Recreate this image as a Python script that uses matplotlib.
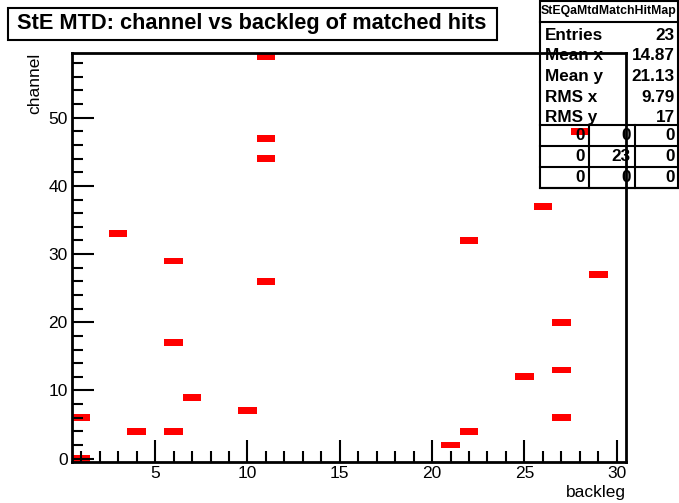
import numpy as np
import matplotlib
matplotlib.use('Agg')
import matplotlib.pyplot as plt
from matplotlib.patches import Rectangle

# matched hits: (backleg, channel)
backleg = [1, 1, 3, 4, 6, 6, 6, 7, 10, 11, 11, 11, 11,
           21, 22, 22, 25, 26, 27, 27, 27, 28, 29]
channel = [0, 6, 33, 4, 29, 17, 4, 9, 7, 59, 47, 44, 26,
           2, 32, 4, 12, 37, 20, 13, 6, 48, 27]

stat_names = ['Entries', 'Mean x', 'Mean y', 'RMS x', 'RMS y']
stat_values = ['23', '14.87', '21.13', '9.79', '17']
overflow = [['0', '0', '0'], ['0', '23', '0'], ['0', '0', '0']]

plt.rcParams['font.family'] = ['Liberation Sans', 'DejaVu Sans']

W, H = 679, 503
fig = plt.figure(figsize=(W / 100, H / 100), dpi=100)
ax = fig.add_axes([72 / W, 1 - 462 / H, (626 - 72) / W, (462 - 53) / H])

xedges = np.arange(0.5, 31.0, 1.0)
yedges = np.arange(-0.5, 60.0, 1.0)
counts, _, _ = np.histogram2d(backleg, channel, bins=[xedges, yedges])
masked = np.ma.masked_where(counts.T == 0, counts.T)
ax.pcolormesh(xedges, yedges, masked, cmap=matplotlib.colors.ListedColormap(['red']))

ax.set_xlim(0.5, 30.5)
ax.set_ylim(-0.5, 59.5)
ax.set_xticks([5, 10, 15, 20, 25, 30])
ax.set_xticks(np.arange(1, 31), minor=True)
ax.set_yticks([0, 10, 20, 30, 40, 50])
ax.set_yticks(np.arange(0, 60, 2), minor=True)
ax.tick_params(direction='in', length=16, width=1.5, labelsize=12.5, pad=3)
ax.tick_params(which='minor', direction='in', length=8, width=1.5)
ax.tick_params(top=False, right=False, which='both')
for s in ax.spines.values():
    s.set_linewidth(2)

fig.text(626 / W, 1 - 500 / H, 'backleg', ha='right', va='bottom', fontsize=12.5)
fig.text(35 / W, 1 - 53 / H, 'channel', ha='center', va='top', rotation=90, fontsize=12.5)

# title box
fig.patches.append(Rectangle((8 / W, 1 - 40 / H), (497 - 8) / W, 32 / H,
                             transform=fig.transFigure, fill=False, lw=1.5, ec='black'))
fig.text(252 / W, 1 - 24 / H, 'StE MTD: channel vs backleg of matched hits',
         ha='center', va='center', fontsize=15.7, fontweight='bold')

# stats box
x0, x1 = 540, 678
fig.patches.append(Rectangle((x0 / W, 1 - 188 / H), (x1 - x0) / W, 187 / H,
                             transform=fig.transFigure, fill=False, lw=1.5, ec='black',
                             zorder=5))
def hline(y, xa=x0, xb=x1):
    fig.add_artist(plt.Line2D([xa / W, xb / W], [1 - y / H, 1 - y / H], color='black', lw=1.5))

def vline(x, ya, yb):
    fig.add_artist(plt.Line2D([x / W, x / W], [1 - ya / H, 1 - yb / H], color='black', lw=1.5))

hline(22)
fig.text((x0 + x1) / 2 / W, 1 - 11 / H, 'StEQaMtdMatchHitMap', ha='center', va='center',
         fontsize=8.8, fontweight='bold')
for i, (n, v) in enumerate(zip(stat_names, stat_values)):
    y = 35 + i * 20.7
    fig.text((x0 + 5) / W, 1 - y / H, n, ha='left', va='center', fontsize=12.3, fontweight='bold')
    fig.text((x1 - 3) / W, 1 - y / H, v, ha='right', va='center', fontsize=12.3, fontweight='bold')

rows_y = [125, 146, 167, 188]
for y in rows_y:
    hline(y)
vline(589, 125, 188)
vline(635, 125, 188)
col_right = [585, 631, 675]
for r, row in enumerate(overflow):
    yc = (rows_y[r] + rows_y[r + 1]) / 2
    for c, val in enumerate(row):
        fig.text(col_right[c] / W, 1 - yc / H, val, ha='right', va='center',
                 fontsize=12.3, fontweight='bold')

fig.savefig('out.png', dpi=100)
